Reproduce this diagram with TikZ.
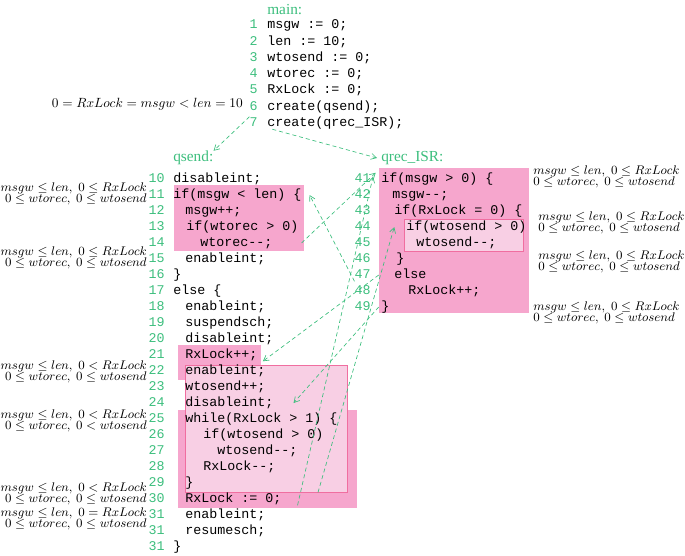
\RequirePackage{fix-cm}
\documentclass[tikz,border=0pt]{standalone}
\usepackage{fontspec}
\setmainfont{Liberation Serif}
\setmonofont{Liberation Mono}
\usepackage{xcolor}
\usepackage{amsmath}
\usepackage{tikz}
\usetikzlibrary{arrows.meta, positioning, calc, fit}
\definecolor{codegreen}{RGB}{60,190,125}
\definecolor{pinkfill}{RGB}{246,166,205}
\definecolor{palefill}{RGB}{248,207,228}
\definecolor{paleedge}{RGB}{240,110,160}
\tikzset{
  code/.style={anchor=west, inner sep=0pt, font=\ttfamily\fontsize{10}{12}\selectfont,
    text height=7pt, text depth=2pt},
  linenum/.style={anchor=east, inner sep=0pt, font=\ttfamily\fontsize{10}{12}\selectfont,
    text=codegreen, text height=7pt, text depth=2pt},
  proclabel/.style={anchor=west, inner sep=0pt, font=\fontsize{11.5}{12}\selectfont,
    text=codegreen},
  inv/.style={inner sep=0pt, font=\fontsize{9.4}{8.4}\selectfont},
  pinkbox/.style={rectangle, fill=pinkfill, inner sep=0pt},
  palebox/.style={rectangle, draw=paleedge, fill=palefill, inner sep=0pt, line width=0.6pt},
  arrow/.style={-{Straight Barb[length=4pt,width=4.5pt]}, dash pattern=on 3pt off 2.2pt,
    color=codegreen, line width=0.5pt}
}

\begin{document}
\begin{tikzpicture}[x=0.75pt, y=-0.75pt]
  \useasboundingbox (0,0) rectangle (685,556);

  % highlighted regions
  \node[pinkbox, fit={(174,185) (304,251)}] (b1) {};
  \node[pinkbox, fit={(178,345) (261,380)}] (b2) {};
  \node[pinkbox, fit={(178,410) (357,508)}] (b3) {};
  \node[palebox, fit={(185,365) (347,492)}] (pbox) {};
  \node[pinkbox, fit={(379,168) (529,313)}] (rbox) {};
  \node[palebox, fit={(404,219) (523,251)}] (ibox) {};

  % main
  \node[proclabel] (mainlbl) at (267,10) {main:};
  \foreach \n in {1,...,7}
    \node[linenum] (mn\n) at (258,{25.5+16.25*(\n-1)}) {\n};
  \node[code] (m1) at (267,25.5) {msgw := 0;};
  \node[code] (m2) at (267,41.75) {len := 10;};
  \node[code] (m3) at (267,58) {wtosend := 0;};
  \node[code] (m4) at (267,74.25) {wtorec := 0;};
  \node[code] (m5) at (267,90.5) {RxLock := 0;};
  \node[code] (m6) at (267,106.75) {create(qsend);};
  \node[code] (m7) at (267,123) {create(qrec\_ISR);};
  \node[inv, anchor=east, font=\fontsize{10}{12}\selectfont] (inv0) at (243,104)
    {$0 = RxLock = msgw < len = 10$};

  % qsend
  \node[proclabel] (qsend) at (173,158) {qsend:};
  \foreach \n [count=\k from 0] in {10,11,12,13,14,15,16,17,18,19,20,21,22,23,24,25,26,27,28,29,30,31,31,31}
    \node[linenum] (sn\n) at (165,{179+16*\k}) {\n};
  \node[code] (s10) at (173,179) {disableint;};
  \node[code] (s11) at (173,195) {if(msgw < len) \{};
  \node[code] (s12) at (185,211) {msgw++;};
  \node[code] (s13) at (186,227) {if(wtorec > 0)};
  \node[code] (s14) at (200,243) {wtorec--;};
  \node[code] (s15) at (185,259) {enableint;};
  \node[code] (s16) at (173,275) {\}};
  \node[code] (s17) at (173,291) {else \{};
  \node[code] (s18) at (185,307) {enableint;};
  \node[code] (s19) at (185,323) {suspendsch;};
  \node[code] (s20) at (185,339) {disableint;};
  \node[code] (s21) at (185,355) {RxLock++;};
  \node[code] (s22) at (185,371) {enableint;};
  \node[code] (s23) at (185,387) {wtosend++;};
  \node[code] (s24) at (185,403) {disableint;};
  \node[code] (s25) at (185,419) {while(RxLock > 1) \{};
  \node[code] (s26) at (203,435) {if(wtosend > 0)};
  \node[code] (s27) at (217,451) {wtosend--;};
  \node[code] (s28) at (203,467) {RxLock--;};
  \node[code] (s29) at (185,483) {\}};
  \node[code] (s30) at (185,499) {RxLock := 0;};
  \node[code] (s31a) at (185,515) {enableint;};
  \node[code] (s31b) at (185,531) {resumesch;};
  \node[code] (s31c) at (173,547) {\}};

  % qrec_ISR
  \node[proclabel] (qrec) at (381,158) {qrec\_ISR:};
  \foreach \n [count=\k from 0] in {41,...,49}
    \node[linenum] (rn\n) at (371,{179+16*\k}) {\n};
  \node[code] (r41) at (381,179) {if(msgw > 0) \{};
  \node[code] (r42) at (392,195) {msgw--;};
  \node[code] (r43) at (394,211) {if(RxLock = 0) \{};
  \node[code] (r44) at (406,227) {if(wtosend > 0)};
  \node[code] (r45) at (416,243) {wtosend--;};
  \node[code] (r46) at (396,259) {\}};
  \node[code] (r47) at (394,275) {else};
  \node[code] (r48) at (408,291) {RxLock++;};
  \node[code] (r49) at (381,307) {\}};

  % invariants
  \node[inv, anchor=east, align=right] (inv1) at (147,194)
    {$msgw \leq len,\; 0 \leq RxLock$\\$0 \leq wtorec,\; 0 \leq wtosend$};
  \node[inv, anchor=east, align=right] (inv2) at (147,258)
    {$msgw \leq len,\; 0 \leq RxLock$\\$0 \leq wtorec,\; 0 \leq wtosend$};
  \node[inv, anchor=east, align=right] (inv3) at (147,372)
    {$msgw \leq len,\; 0 < RxLock$\\$0 \leq wtorec,\; 0 \leq wtosend$};
  \node[inv, anchor=east, align=right] (inv4) at (147,421)
    {$msgw \leq len,\; 0 < RxLock$\\$0 \leq wtorec,\; 0 < wtosend$};
  \node[inv, anchor=east, align=right] (inv5) at (147,494)
    {$msgw \leq len,\; 0 < RxLock$\\$0 \leq wtorec,\; 0 \leq wtosend$};
  \node[inv, anchor=east, align=right] (inv6) at (147,519)
    {$msgw \leq len,\; 0 = RxLock$\\$0 \leq wtorec,\; 0 \leq wtosend$};
  \node[inv, anchor=west, align=left] (inv7) at (533,177)
    {$msgw \leq len,\; 0 \leq RxLock$\\$0 \leq wtorec,\; 0 \leq wtosend$};
  \node[inv, anchor=west, align=left] (inv8) at (538,223)
    {$msgw \leq len,\; 0 \leq RxLock$\\$0 \leq wtorec,\; 0 \leq wtosend$};
  \node[inv, anchor=west, align=left] (inv9) at (538,262)
    {$msgw \leq len,\; 0 \leq RxLock$\\$0 \leq wtorec,\; 0 \leq wtosend$};
  \node[inv, anchor=west, align=left] (inv10) at (533,313)
    {$msgw \leq len,\; 0 \leq RxLock$\\$0 \leq wtorec,\; 0 \leq wtosend$};

  % interleavings
  \draw[arrow] (mn7.north west) -- (qsend.north east);
  \draw[arrow] ([xshift=4pt]m7.south west) -- ([xshift=-3pt]qrec.west);
  \draw[arrow] (s11.east |- s14) -- ([xshift=-4pt]r41.north west);
  \draw[arrow] (rn47.south west) -- ([xshift=6pt]s11.east);
  \draw[arrow] (rbox.west |- r47) -- ([xshift=4pt]s21.south east);
  \draw[arrow] (rbox.west |- r49) -- ([xshift=15pt]s24.east);
  \draw[arrow] ([xshift=12pt]s30.south east) -- ([xshift=-6pt,yshift=-3pt]r41.north west);
  \draw[arrow] ([xshift=39pt]pbox.south) -- ([xshift=-7pt,yshift=6pt]ibox.west);
\end{tikzpicture}
\end{document}
